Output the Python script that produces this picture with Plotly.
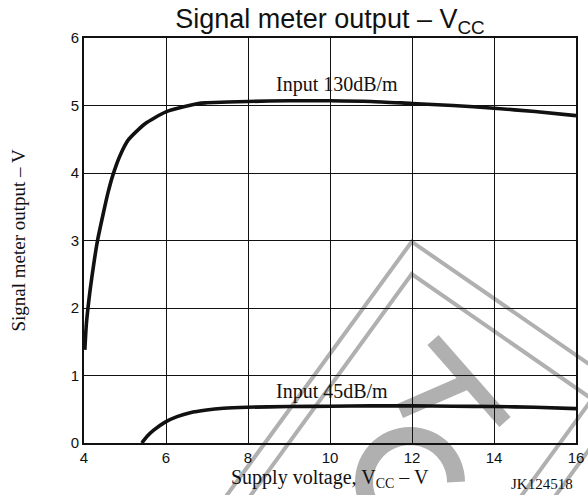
import math
import plotly.graph_objects as go

# Signal meter output versus supply voltage, two input levels
vcc_130 = [4.02, 4.06, 4.15, 4.24, 4.33, 4.47, 4.59, 4.71, 4.88, 5.08, 5.49,
           6.0, 6.79, 7.0, 8.0, 9.0, 10.0, 11.0, 12.0, 13.0, 14.0, 15.0, 16.0]
out_130 = [1.38, 1.78, 2.27, 2.66, 3.00, 3.40, 3.72, 3.98, 4.26, 4.49, 4.73,
           4.905, 5.03, 5.04, 5.06, 5.07, 5.07, 5.06, 5.03, 5.00, 4.96, 4.91, 4.85]

vcc_45 = [5.41, 5.54, 5.70, 5.98, 6.27, 6.59, 6.99, 7.40, 7.98, 9.0, 10.0,
          11.0, 12.0, 13.0, 14.0, 15.0, 16.0]
out_45 = [0.0, 0.10, 0.19, 0.31, 0.39, 0.45, 0.49, 0.515, 0.53, 0.54, 0.545,
          0.55, 0.55, 0.545, 0.54, 0.53, 0.51]

curve_labels = ["Input 130dB/m", "Input 45dB/m"]
label_pos = [(10.18, 5.31), (10.05, 0.77)]

x_ticks = [4, 6, 8, 10, 12, 14, 16]
y_ticks = [0, 1, 2, 3, 4, 5, 6]

W, H = 588, 495
PL, PR, PT, PB = 84, 576, 38, 443

SANS = "Liberation Sans, Arial, sans-serif"
SERIF = "Liberation Serif, Times New Roman, serif"
INK = "#111111"
GREY = "#b0b0b0"


def px(xp):
    return (xp - PL) / (PR - PL)


def py(yp):
    return (PB - yp) / (PB - PT)


def path_of(points, close=False):
    s = "M " + " L ".join(f"{px(a):.5f},{py(b):.5f}" for a, b in points)
    return s + (" Z" if close else "")


fig = go.Figure()
for xs, ys in ((vcc_130, out_130), (vcc_45, out_45)):
    fig.add_trace(go.Scatter(
        x=xs, y=ys, mode="lines",
        line=dict(color=INK, width=3.6, shape="spline", smoothing=0.6),
        showlegend=False, hoverinfo="skip",
    ))

# stamp overlay drawn behind the grid
shapes = []
stamp_lines = [
    [(219, 506), (411.7, 241.7), (600, 371.6)],
    [(243, 506), (411.7, 274.0), (600, 404.6)],
    [(548, 506), (600, 434.7)],
    [(514, 506), (600, 388.3)],
]
for pts in stamp_lines:
    shapes.append(dict(type="path", path=path_of(pts), xref="paper", yref="paper",
                       line=dict(color=GREY, width=4), layer="below"))
# letter T
shapes.append(dict(type="path", path=path_of([(433, 340), (505, 422)]),
                   xref="paper", yref="paper", line=dict(color=GREY, width=15), layer="below"))
shapes.append(dict(type="path", path=path_of([(469, 381), (400, 411)]),
                   xref="paper", yref="paper", line=dict(color=GREY, width=15), layer="below"))
# letter C
cx, cy, r = 410, 482, 46
arc = [(cx + r * math.cos(math.radians(a)), cy - r * math.sin(math.radians(a)))
       for a in range(0, 262, 6)]
shapes.append(dict(type="path", path=path_of(arc), xref="paper", yref="paper",
                   line=dict(color=GREY, width=18), layer="below"))

annotations = []
for text, (lx, ly) in zip(curve_labels, label_pos):
    annotations.append(dict(x=lx, y=ly, xref="x", yref="y", text=text, showarrow=False,
                            xanchor="center", yanchor="middle",
                            font=dict(family=SERIF, size=20, color=INK)))
annotations.append(dict(x=px(330), y=py(478), xref="paper", yref="paper",
                        xanchor="center", yanchor="middle",
                        text="Supply voltage, V<sub>CC</sub> – V", showarrow=False,
                        font=dict(family=SERIF, size=20, color=INK)))
annotations.append(dict(x=px(18), y=py(240.5), xref="paper", yref="paper", textangle=-90,
                        xanchor="center", yanchor="middle",
                        text="Signal meter output – V", showarrow=False,
                        font=dict(family=SERIF, size=19, color=INK)))
annotations.append(dict(x=px(542), y=py(484), xref="paper", yref="paper",
                        xanchor="center", yanchor="middle",
                        text="JK124518", showarrow=False,
                        font=dict(family=SERIF, size=15, color=INK)))

axis_common = dict(showgrid=True, gridcolor=INK, gridwidth=1,
                   showline=True, linecolor=INK, linewidth=2, mirror=True,
                   zeroline=False, ticks="", fixedrange=True, automargin=False,
                   tickfont=dict(family=SANS, size=15, color=INK))

fig.update_layout(
    width=W, height=H,
    margin=dict(l=PL, r=W - PR, t=PT, b=H - PB, autoexpand=False),
    paper_bgcolor="white", plot_bgcolor="rgba(0,0,0,0)",
    title=dict(text="Signal meter output – V<sub>CC</sub>", x=px(330), xref="paper",
               xanchor="center", y=1 - 19 / H, yref="container", yanchor="middle",
               font=dict(family=SANS, size=27, color=INK)),
    xaxis=dict(range=[4, 16], tickvals=x_ticks, ticktext=[str(v) for v in x_ticks],
               **axis_common),
    yaxis=dict(range=[0, 6], tickvals=y_ticks, ticktext=[str(v) for v in y_ticks],
               **axis_common),
    shapes=shapes, annotations=annotations,
)

fig.write_html("out.html")
